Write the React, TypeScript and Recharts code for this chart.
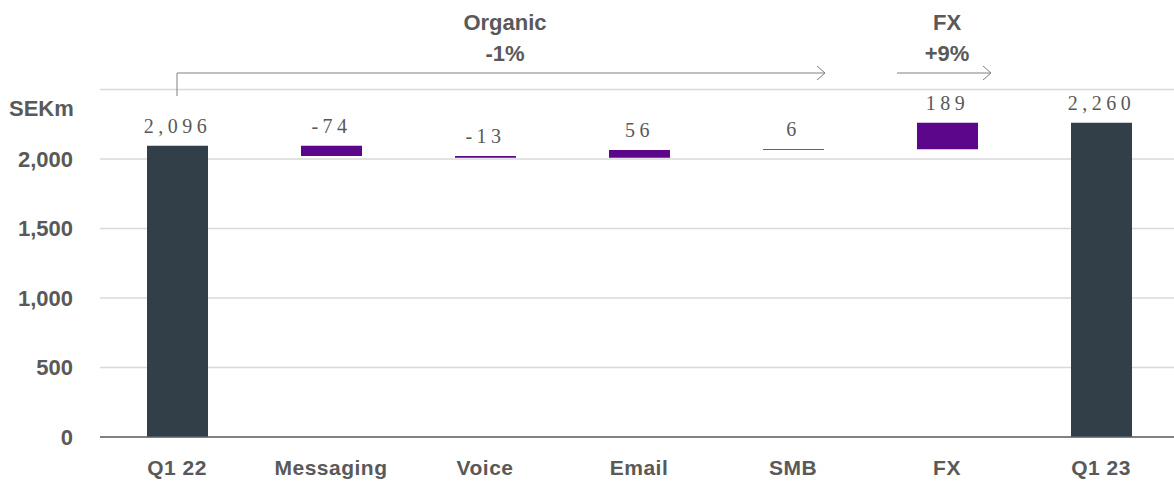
import React from 'react';
import { BarChart, Bar, XAxis, YAxis, CartesianGrid, Cell, LabelList } from 'recharts';

const categories = ['Q1 22', 'Messaging', 'Voice', 'Email', 'SMB', 'FX', 'Q1 23'];
const changes = [2096, -74, -13, 56, 6, 189, 2260];
const isTotal = [true, false, false, false, false, false, true];
const yTicks = [0, 500, 1000, 1500, 2000];

const DARK = '#333f48';
const PURPLE = '#5c068c';
const GREY = '#595959';

// waterfall: invisible base + visible step
let running = 0;
const data = categories.map((name, i) => {
  const v = changes[i];
  if (isTotal[i]) {
    running = v;
    return { name, base: 0, step: v, label: v, total: true };
  }
  const start = running;
  running = start + v;
  return { name, base: Math.min(start, running), step: Math.abs(v), label: v, total: false };
});

const W = 1178;
const H = 484;
const LEFT = 100;
const TOP = 89.5;
const band = (W - LEFT) / categories.length;
const cx = (i: number) => LEFT + band * (i + 0.5);

const fmt = (v: number) => v.toLocaleString('en-US');

const ValueLabel = (props: any) => {
  const { x, y, width, value } = props;
  return (
    <text x={x + width / 2} y={y - 13} textAnchor="middle" fill={GREY}
      style={{ fontFamily: '"Liberation Serif", serif', fontSize: 20, letterSpacing: 4.5 }}>
      {fmt(value)}
    </text>
  );
};

const Arrow = ({ x1, x2, y }: { x1: number; x2: number; y: number }) => (
  <g stroke="#808080" strokeWidth={1} fill="none">
    <line x1={x1} y1={y} x2={x2} y2={y} />
    <polyline points={`${x2 - 8},${y - 7} ${x2},${y} ${x2 - 8},${y + 7}`} />
  </g>
);

const sans = { fontFamily: '"Liberation Sans", Arial, sans-serif', fontWeight: 700 };

export default function App() {
  const orgEnd = cx(4) + 32;
  const orgMid = (cx(0) + orgEnd) / 2 + 4;
  return (
    <div style={{ position: 'absolute', left: 0, top: 0, width: 1174, height: H, overflow: 'hidden', background: '#fff' }}>
      <BarChart width={W} height={H} data={data} margin={{ top: TOP, right: 0, bottom: 0, left: 0 }} barSize={61}>
        <CartesianGrid vertical={false} stroke="#d9d9d9" strokeWidth={1.5} />
        <XAxis dataKey="name" height={47} tickLine={false} axisLine={{ stroke: '#58626a', strokeWidth: 1.5 }}
          tickMargin={17} tick={{ fill: GREY, fontSize: 21, letterSpacing: 0.5, ...sans }} interval={0} />
        <YAxis width={LEFT} domain={[0, 2500]} ticks={yTicks} axisLine={false} tickLine={false}
          tickMargin={21} tickFormatter={fmt} tick={{ fill: GREY, fontSize: 22, ...sans }} />
        <Bar dataKey="base" stackId="w" fill="transparent" isAnimationActive={false} />
        <Bar dataKey="step" stackId="w" isAnimationActive={false}>
          {data.map((d, i) => (
            <Cell key={i} fill={d.total ? DARK : PURPLE} />
          ))}
          <LabelList dataKey="label" content={ValueLabel} />
        </Bar>
      </BarChart>
      <svg width={1174} height={H} style={{ position: 'absolute', left: 0, top: 0, pointerEvents: 'none' }}>
        <text x={9} y={116} fill={GREY} style={{ ...sans, fontSize: 22 }}>SEKm</text>
        <text x={orgMid} y={30} textAnchor="middle" fill={GREY} style={{ ...sans, fontSize: 22 }}>Organic</text>
        <text x={orgMid} y={61} textAnchor="middle" fill={GREY} style={{ ...sans, fontSize: 22 }}>-1%</text>
        <line x1={cx(0)} y1={96} x2={cx(0)} y2={73} stroke="#808080" strokeWidth={1} />
        <Arrow x1={cx(0)} x2={orgEnd} y={73} />
        <text x={cx(5)} y={30} textAnchor="middle" fill={GREY} style={{ ...sans, fontSize: 22 }}>FX</text>
        <text x={cx(5)} y={61} textAnchor="middle" fill={GREY} style={{ ...sans, fontSize: 22 }}>+9%</text>
        <Arrow x1={cx(5) - 50} x2={cx(5) + 44} y={73} />
      </svg>
    </div>
  );
}
